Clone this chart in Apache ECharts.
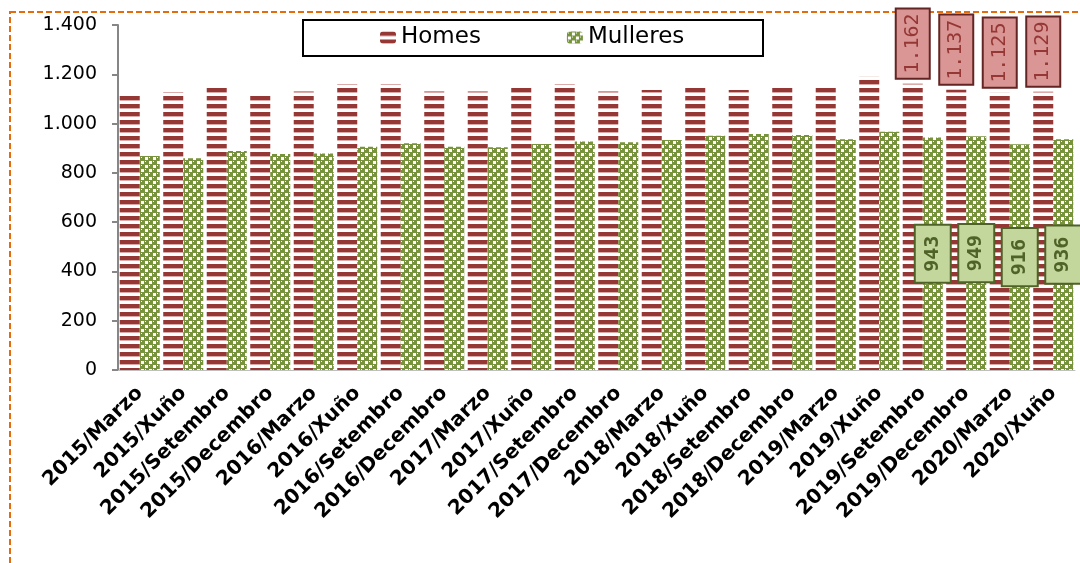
<!DOCTYPE html>
<html>
<head>
<meta charset="utf-8">
<title>Homes e Mulleres</title>
<script src="https://cdn.jsdelivr.net/npm/echarts@6/dist/echarts.min.js"></script>
<style>
    html, body { margin: 0; padding: 0; background: #fff; }
    #main { width: 1080px; height: 563px; }
</style>
</head>
<body>
<div id="main"></div>
<script>
// datos
var categories = [
    '2015/Marzo', '2015/Xuño', '2015/Setembro', '2015/Decembro',
    '2016/Marzo', '2016/Xuño', '2016/Setembro', '2016/Decembro',
    '2017/Marzo', '2017/Xuño', '2017/Setembro', '2017/Decembro',
    '2018/Marzo', '2018/Xuño', '2018/Setembro', '2018/Decembro',
    '2019/Marzo', '2019/Xuño', '2019/Setembro', '2019/Decembro',
    '2020/Marzo', '2020/Xuño'
];
var homes = [1117, 1128, 1150, 1123, 1130, 1161, 1161, 1130, 1130, 1147, 1161, 1130,
             1136, 1155, 1136, 1155, 1152, 1190, 1162, 1137, 1125, 1129];
var mulleres = [868, 859, 889, 877, 879, 906, 920, 906, 904, 917, 927, 924,
                933, 951, 958, 954, 936, 967, 943, 949, 916, 936];
var labelFrom = 18; // só as catro últimas levan etiqueta

function miles(v) {
    return String(v).replace(/\B(?=(\d{3})+(?!\d))/g, '.');
}

// tramas tipo Excel (8x8)
function tramaHomes() {
    var c = document.createElement('canvas');
    c.width = 8; c.height = 8;
    var g = c.getContext('2d');
    g.fillStyle = '#ffffff'; g.fillRect(0, 0, 8, 8);
    g.fillStyle = '#dcaaa9'; g.fillRect(0, 4, 8, 1);
    g.fillStyle = '#953735'; g.fillRect(0, 0, 8, 4);
    return c;
}
function tramaMulleres() {
    var c = document.createElement('canvas');
    c.width = 8; c.height = 8;
    var g = c.getContext('2d');
    g.fillStyle = '#77933C'; g.fillRect(0, 0, 8, 8);
    g.fillStyle = '#ffffff';
    g.fillRect(5, 1, 3, 3);
    g.fillRect(1, 5, 3, 3);
    g.fillRect(1, 1, 1, 1);
    g.fillRect(5, 5, 1, 1);
    return c;
}

var font = 'DejaVu Sans';
var chart = echarts.init(document.getElementById('main'));

var option = {
    animation: false,
    graphic: [
        { type: 'rect', z: -10, shape: { x: 10, y: 12, width: 1100, height: 620 },
          style: { fill: 'none', stroke: '#E46C0A', lineWidth: 2, lineDash: [6, 3] } },
        { type: 'rect', z: 0, shape: { x: 303, y: 20, width: 460, height: 36 },
          style: { fill: '#fff', stroke: '#000', lineWidth: 2 } }
    ],
    legend: {
        left: 380, top: 26, padding: 0,
        itemWidth: 16, itemHeight: 12, itemGap: 86,
        textStyle: { fontFamily: font, fontSize: 23, color: '#000' },
        data: ['Homes', 'Mulleres']
    },
    grid: { left: 118, right: 5, top: 25, bottom: 193, containLabel: false },
    xAxis: {
        type: 'category',
        data: categories,
        axisLine: { lineStyle: { color: '#BFBFBF', width: 1 } },
        axisTick: { show: false },
        axisLabel: { interval: 0, rotate: 45, margin: 20, color: '#000',
                     fontFamily: font, fontWeight: 'bold', fontSize: 20 }
    },
    yAxis: {
        type: 'value', min: 0, max: 1400, interval: 200,
        splitLine: { show: false },
        axisLine: { show: true, lineStyle: { color: '#868686', width: 2 } },
        axisTick: { show: true, length: 6, lineStyle: { color: '#868686', width: 2 } },
        axisLabel: { margin: 21, color: '#000', fontFamily: font, fontSize: 19, formatter: miles }
    },
    series: [
        {
            name: 'Homes', type: 'bar',
            barGap: '0%', barCategoryGap: '8%',
            itemStyle: { color: { image: tramaHomes(), repeat: 'repeat' } },
            label: {
                show: false, position: 'top', distance: 6, rotate: 90,
                align: 'left', verticalAlign: 'middle',
                fontFamily: 'DejaVu Sans Mono', fontSize: 20,
                color: '#953735', backgroundColor: '#D99694',
                borderColor: '#632523', borderWidth: 2, padding: [6, 4, 6, 4],
                formatter: function (p) { return miles(p.value); }
            },
            data: homes.map(function (v, i) {
                return i >= labelFrom ? { value: v, label: { show: true } } : v;
            })
        },
        {
            name: 'Mulleres', type: 'bar',
            itemStyle: { color: { image: tramaMulleres(), repeat: 'repeat' } },
            label: {
                show: false, position: 'inside', rotate: 90,
                align: 'center', verticalAlign: 'middle',
                fontFamily: 'DejaVu Sans Mono', fontSize: 20, fontWeight: 'bold',
                color: '#4F6228', backgroundColor: '#C3D69B',
                borderColor: '#4F6228', borderWidth: 2, padding: [7, 10, 7, 10],
                formatter: function (p) { return miles(p.value); }
            },
            data: mulleres.map(function (v, i) {
                return i >= labelFrom ? { value: v, label: { show: true } } : v;
            })
        }
    ]
};

chart.setOption(option);
</script>
</body>
</html>
